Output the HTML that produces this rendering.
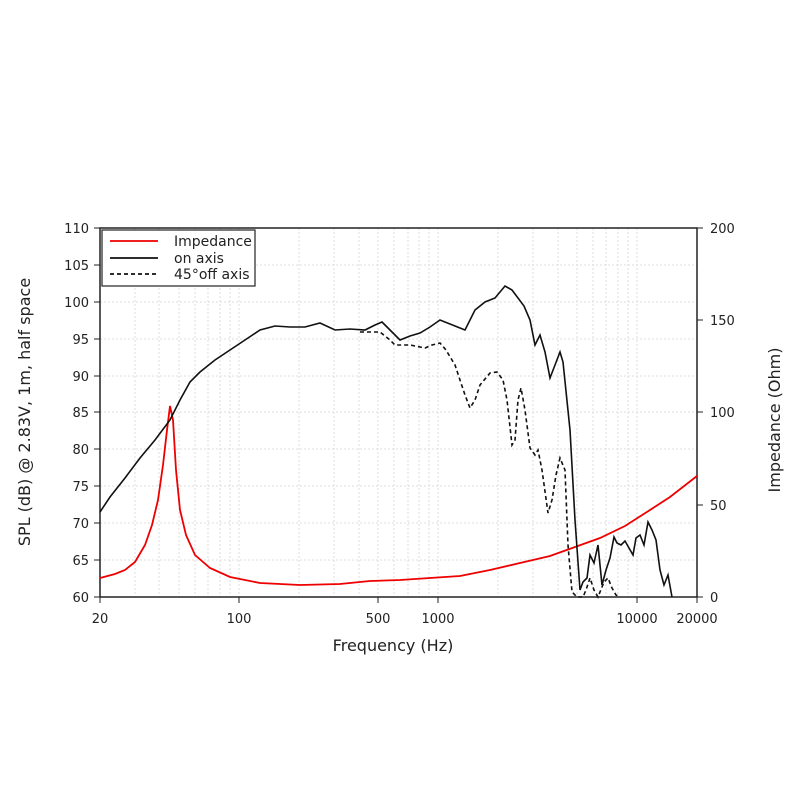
<!DOCTYPE html>
<html><head><style>body{margin:0;background:#fff}svg{display:block}text{font-family:"DejaVu Sans","Liberation Sans",sans-serif;fill:#222}</style></head><body>
<svg width="800" height="800" viewBox="0 0 800 800">
<g stroke="#ddd" stroke-width="1" stroke-dasharray="2,2">
<line x1="135" y1="228" x2="135" y2="597"/><line x1="159" y1="228" x2="159" y2="597"/><line x1="179" y1="228" x2="179" y2="597"/><line x1="195" y1="228" x2="195" y2="597"/><line x1="208" y1="228" x2="208" y2="597"/><line x1="220" y1="228" x2="220" y2="597"/><line x1="230" y1="228" x2="230" y2="597"/><line x1="239" y1="228" x2="239" y2="597"/>
<line x1="299" y1="228" x2="299" y2="597"/><line x1="334" y1="228" x2="334" y2="597"/><line x1="359" y1="228" x2="359" y2="597"/><line x1="378" y1="228" x2="378" y2="597"/><line x1="394" y1="228" x2="394" y2="597"/><line x1="408" y1="228" x2="408" y2="597"/><line x1="419" y1="228" x2="419" y2="597"/><line x1="429" y1="228" x2="429" y2="597"/><line x1="438" y1="228" x2="438" y2="597"/>
<line x1="498" y1="228" x2="498" y2="597"/><line x1="533" y1="228" x2="533" y2="597"/><line x1="558" y1="228" x2="558" y2="597"/><line x1="577" y1="228" x2="577" y2="597"/><line x1="593" y1="228" x2="593" y2="597"/><line x1="606" y1="228" x2="606" y2="597"/><line x1="618" y1="228" x2="618" y2="597"/><line x1="628" y1="228" x2="628" y2="597"/><line x1="637" y1="228" x2="637" y2="597"/>
<line x1="100" y1="265" x2="697" y2="265"/><line x1="100" y1="302" x2="697" y2="302"/><line x1="100" y1="339" x2="697" y2="339"/><line x1="100" y1="376" x2="697" y2="376"/><line x1="100" y1="412" x2="697" y2="412"/><line x1="100" y1="449" x2="697" y2="449"/><line x1="100" y1="486" x2="697" y2="486"/><line x1="100" y1="523" x2="697" y2="523"/><line x1="100" y1="560" x2="697" y2="560"/>
</g>
<rect x="100" y="228" width="597" height="369" fill="none" stroke="#222" stroke-width="1.5"/>
<g stroke="#222" stroke-width="1">
<line x1="94" y1="228" x2="100" y2="228"/><line x1="94" y1="265" x2="100" y2="265"/><line x1="94" y1="302" x2="100" y2="302"/><line x1="94" y1="339" x2="100" y2="339"/><line x1="94" y1="376" x2="100" y2="376"/><line x1="94" y1="412" x2="100" y2="412"/><line x1="94" y1="449" x2="100" y2="449"/><line x1="94" y1="486" x2="100" y2="486"/><line x1="94" y1="523" x2="100" y2="523"/><line x1="94" y1="560" x2="100" y2="560"/><line x1="94" y1="597" x2="100" y2="597"/>
<line x1="697" y1="228" x2="703" y2="228"/><line x1="697" y1="320" x2="703" y2="320"/><line x1="697" y1="412" x2="703" y2="412"/><line x1="697" y1="505" x2="703" y2="505"/><line x1="697" y1="597" x2="703" y2="597"/>
<line x1="100" y1="597" x2="100" y2="603"/><line x1="239" y1="597" x2="239" y2="603"/><line x1="378" y1="597" x2="378" y2="603"/><line x1="438" y1="597" x2="438" y2="603"/><line x1="637" y1="597" x2="637" y2="603"/><line x1="697" y1="597" x2="697" y2="603"/>
</g>
<g font-size="13" text-anchor="end">
<text x="89" y="233">110</text><text x="89" y="270">105</text><text x="89" y="307">100</text><text x="89" y="344">95</text><text x="89" y="381">90</text><text x="89" y="417">85</text><text x="89" y="454">80</text><text x="89" y="491">75</text><text x="89" y="528">70</text><text x="89" y="565">65</text><text x="89" y="602">60</text>
</g>
<g font-size="13">
<text x="710" y="233">200</text><text x="710" y="325">150</text><text x="710" y="417">100</text><text x="710" y="510">50</text><text x="710" y="602">0</text>
</g>
<g font-size="13" text-anchor="middle">
<text x="100" y="623">20</text><text x="239" y="623">100</text><text x="378" y="623">500</text><text x="438" y="623">1000</text><text x="637" y="623">10000</text><text x="697" y="623">20000</text>
</g>
<text x="393" y="651" font-size="16" text-anchor="middle">Frequency (Hz)</text>
<text transform="translate(30,412) rotate(-90)" font-size="16" text-anchor="middle">SPL (dB) @ 2.83V, 1m, half space</text>
<text transform="translate(780,420) rotate(-90)" font-size="16" text-anchor="middle">Impedance (Ohm)</text>
<polyline fill="none" stroke="#e00" stroke-width="1.8" points="100,578 115,574 125,570 135,562 145,545 152,525 158,500 163,465 167,430 170,406 173,420 176,470 180,510 186,535 195,555 210,568 230,577 260,583 300,585 340,584 370,581 400,580 430,578 460,576 490,570 520,563 550,556 575,547 600,538 625,526 650,510 670,497 697,476"/>
<polyline fill="none" stroke="#111" stroke-width="1.6" stroke-dasharray="4,3" points="360,332 380,332 390,340 395,345 410,345 425,348 432,345 440,343 446,350 455,365 465,395 470,408 475,400 480,385 490,373 497,372 503,380 507,400 512,445 515,440 518,400 521,388 525,410 530,448 535,455 538,450 542,470 548,513 552,500 556,475 560,458 565,470 568,545 572,592 577,597 583,597 586,590 590,578 594,590 598,597 604,582 608,578 612,588 616,595 620,597"/>
<polyline fill="none" stroke="#111" stroke-width="1.6" points="100,512 110,497 125,478 140,458 155,440 170,420 180,400 190,382 200,372 215,360 230,350 245,340 260,330 275,326 290,327 305,327 320,323 335,330 350,329 365,330 375,325 382,322 390,330 400,340 410,336 420,333 430,327 440,320 450,324 465,330 475,310 485,302 495,298 505,286 512,290 518,298 524,306 530,320 535,345 540,335 545,352 550,378 555,365 560,352 563,362 570,430 575,520 580,590 583,582 587,578 590,555 594,563 598,545 602,585 606,570 610,558 614,537 617,543 621,545 625,541 629,548 633,555 636,538 640,535 644,545 648,522 652,530 656,540 660,570 664,585 668,575 672,597"/>
<rect x="102" y="230" width="153" height="56" fill="#fff" stroke="#222" stroke-width="1.2"/>
<line x1="110" y1="241" x2="158" y2="241" stroke="#e00" stroke-width="1.8"/>
<line x1="110" y1="258" x2="158" y2="258" stroke="#111" stroke-width="1.8"/>
<line x1="110" y1="274" x2="158" y2="274" stroke="#111" stroke-width="1.8" stroke-dasharray="4,3"/>
<g font-size="14"><text x="174" y="246">Impedance</text><text x="174" y="263">on axis</text><text x="174" y="279">45°off axis</text></g>
</svg>
</body></html>
